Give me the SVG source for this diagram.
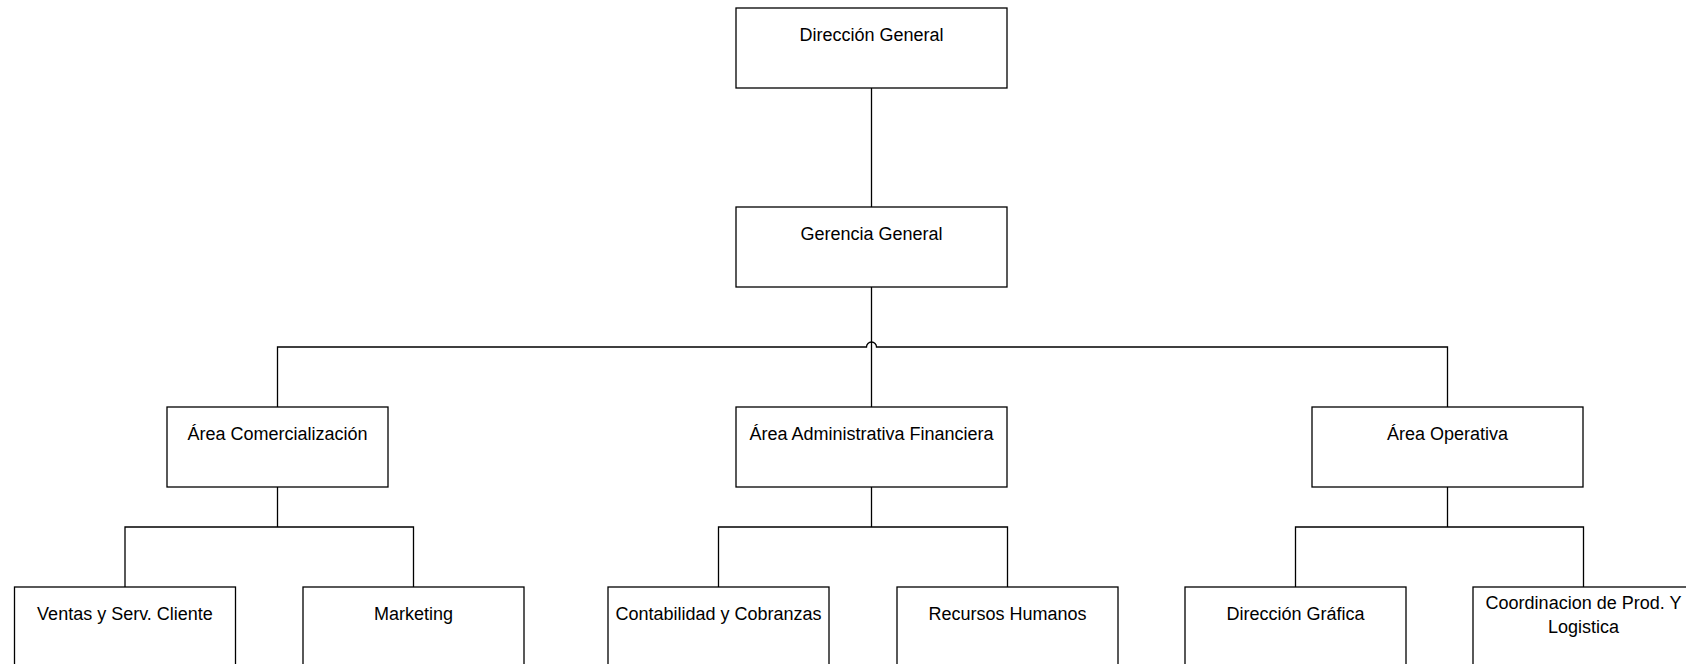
<svg xmlns="http://www.w3.org/2000/svg" width="1686" height="664" viewBox="0 0 1686 664">
<style>
.box{fill:#fff;stroke:#000;stroke-width:1.3}
.lbl{font-family:"Liberation Sans",Arial,sans-serif;font-size:18px;fill:#000;text-anchor:middle}
.conn{fill:none;stroke:#000;stroke-width:1.3}
</style>
<rect width="1686" height="664" fill="#fff"/>
<g id="connectors">
<path class="conn" d="M871.5 88 V207"/>
<path class="conn" d="M871.5 287 V407"/>
<path class="conn" d="M277.5 407 V347 H866.5 A5 5 0 0 1 876.5 347 H1447.5 V407"/>
<path class="conn" d="M277.5 487 V527"/>
<path class="conn" d="M125 587 V527 H413.5 V587"/>
<path class="conn" d="M871.5 487 V527"/>
<path class="conn" d="M718.5 587 V527 H1007.5 V587"/>
<path class="conn" d="M1447.5 487 V527"/>
<path class="conn" d="M1295.5 587 V527 H1583.5 V587"/>
</g>
<g id="direccion-general">
<rect class="box" x="736" y="8" width="271" height="80"/>
<text class="lbl" x="871.5" y="41">Dirección General</text>
</g>
<g id="gerencia-general">
<rect class="box" x="736" y="207" width="271" height="80"/>
<text class="lbl" x="871.5" y="240">Gerencia General</text>
</g>
<g id="area-comercializacion">
<rect class="box" x="167" y="407" width="221" height="80"/>
<text class="lbl" x="277.5" y="440">Área Comercialización</text>
</g>
<g id="area-administrativa-financiera">
<rect class="box" x="736" y="407" width="271" height="80"/>
<text class="lbl" x="871.5" y="440">Área Administrativa Financiera</text>
</g>
<g id="area-operativa">
<rect class="box" x="1312" y="407" width="271" height="80"/>
<text class="lbl" x="1447.5" y="440">Área Operativa</text>
</g>
<g id="ventas">
<rect class="box" x="14.5" y="587" width="221" height="100"/>
<text class="lbl" x="125" y="620">Ventas y Serv. Cliente</text>
</g>
<g id="marketing">
<rect class="box" x="303" y="587" width="221" height="100"/>
<text class="lbl" x="413.5" y="620">Marketing</text>
</g>
<g id="contabilidad">
<rect class="box" x="608" y="587" width="221" height="100"/>
<text class="lbl" x="718.5" y="620">Contabilidad y Cobranzas</text>
</g>
<g id="recursos-humanos">
<rect class="box" x="897" y="587" width="221" height="100"/>
<text class="lbl" x="1007.5" y="620">Recursos Humanos</text>
</g>
<g id="direccion-grafica">
<rect class="box" x="1185" y="587" width="221" height="100"/>
<text class="lbl" x="1295.5" y="620">Dirección Gráfica</text>
</g>
<g id="coordinacion">
<rect class="box" x="1473" y="587" width="221" height="100"/>
<text class="lbl" x="1583.5" y="609">Coordinacion de Prod. Y</text>
<text class="lbl" x="1583.5" y="633">Logistica</text>
</g>
</svg>
